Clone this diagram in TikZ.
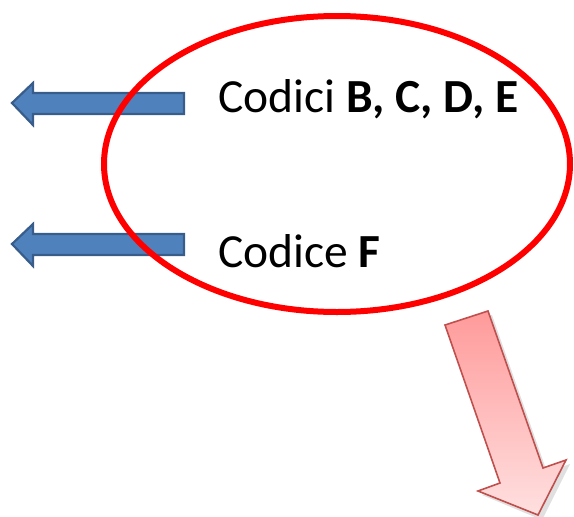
\documentclass[tikz,border=0pt]{standalone}
\usepackage{fontspec}
\setmainfont{Carlito}
\definecolor{bluefill}{HTML}{4F81BD}
\definecolor{blueline}{HTML}{385D8A}
\definecolor{redline}{HTML}{C0504D}
\definecolor{redtop}{HTML}{FF9A9A}
\definecolor{redbot}{HTML}{FFE0E0}
\tikzset{
  bluearrow/.style={fill=bluefill, draw=blueline, line width=2.2pt, line join=miter},
  ring/.style={draw=red, line width=6pt},
  label/.style={anchor=base west, inner sep=0pt, font=\fontsize{47.5}{52}\selectfont},
  redarrow/.style={draw=redline, line width=1.6pt, line join=miter, top color=redtop, bottom color=redbot}
}
\begin{document}
\begin{tikzpicture}[x=1pt,y=-1pt]
\useasboundingbox (0,0) rectangle (574,517);
% blue arrows
\draw[bluearrow] (12,103) -- (33,83) -- (33,93) -- (184,93) -- (184,114) -- (33,114) -- (33,125) -- cycle;
\draw[bluearrow] (12,244) -- (33,224) -- (33,234) -- (184,234) -- (184,255) -- (33,255) -- (33,266) -- cycle;
% ellipse
\draw[ring] (337,164) ellipse [x radius=233, y radius=148];
% texts
\node[label] (t1) at (218,112) {Codici \textbf{B, C, D, E}};
\node[label] (t2) at (218,267) {Codice \textbf{F}};
% shadow of red arrow
\fill[black, opacity=0.12] (449,329) -- (492,315) -- (547,472) -- (570,464) -- (542,520) -- (482,495) -- (504,487) -- cycle;
% red arrow
\draw[redarrow] (445,325) -- (488,311) -- (543,468) -- (566,460) -- (538,515) -- (478,491) -- (500,483) -- cycle;
\end{tikzpicture}
\end{document}
